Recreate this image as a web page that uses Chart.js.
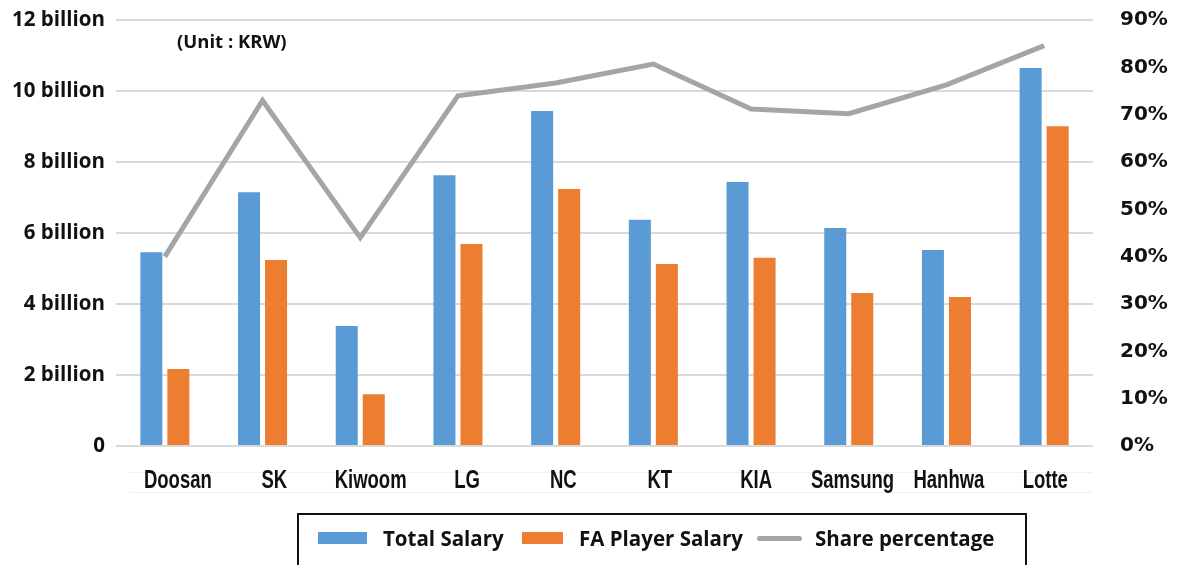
<!DOCTYPE html>
<html>
<head>
<meta charset="utf-8">
<script src="https://cdn.jsdelivr.net/npm/chart.js@4.4.1/dist/chart.umd.min.js"></script>
<style>
  html, body { margin: 0; padding: 0; background: #fff; }
  #wrap { position: relative; width: 1179px; height: 565px; overflow: hidden; }
  canvas { display: block; }
  #unit { position: absolute; left: 177px; top: 28px; font: bold 18.5px "Open Sans", "Noto Sans", sans-serif; color: #111; white-space: nowrap; }
  #legend { position: absolute; left: 297px; top: 513px; width: 730px; height: 56px; border: 2px solid #111; box-sizing: border-box; }
  .lg { position: absolute; font: bold 20.5px "Open Sans", "Noto Sans", sans-serif; color: #111; white-space: nowrap; line-height: 24px; top: 11px; }
  .sw { position: absolute; height: 12px; top: 17px; }
  .ln { position: absolute; height: 5px; top: 21px; border-radius: 3px; }
</style>
</head>
<body>
<div id="wrap">
  <canvas id="c" width="1179" height="565"></canvas>
  <div id="unit">(Unit : KRW)</div>
  <div id="legend"></div>
</div>
<script>
const categories = ["Doosan", "SK", "Kiwoom", "LG", "NC", "KT", "KIA", "Samsung", "Hanhwa", "Lotte"];
const totalSalary = [5.46, 7.15, 3.38, 7.63, 9.44, 6.37, 7.44, 6.14, 5.52, 10.65]; // billion KRW
const faSalary = [2.17, 5.24, 1.46, 5.69, 7.24, 5.13, 5.30, 4.31, 4.20, 9.01];   // billion KRW
const sharePct = [40, 73, 44, 74, 76.7, 80.7, 71.2, 70.2, 76.3, 84.6];          // %
const leftTicks = ["0", "2 billion", "4 billion", "6 billion", "8 billion", "10 billion", "12 billion"];
const rightTicks = ["0%", "10%", "20%", "30%", "40%", "50%", "60%", "70%", "80%", "90%"];

const BLUE = "#5B9BD5", ORANGE = "#ED7D31", GRAY = "#A5A5A5";

// Category labels: drawn at the x scale's own tick positions, with a condensed look
// (the reference labels sit slightly right of the bar-group centres at the left end)
const condensedLabels = {
  id: "condensedLabels",
  afterDraw(chart) {
    const xs = chart.scales.x, ctx = chart.ctx;
    const x0 = xs.getPixelForValue(0);
    ctx.save();
    // faint separator lines seen under the labels in the reference
    ctx.strokeStyle = "#F0F0F0"; ctx.lineWidth = 1;
    [xs.top + 26, xs.top + 46].forEach(yy => {
      ctx.beginPath(); ctx.moveTo(xs.left + 14, yy + 0.5); ctx.lineTo(xs.right, yy + 0.5); ctx.stroke();
    });
    ctx.fillStyle = "#111";
    ctx.font = "bold 25px 'Liberation Sans', Arial, sans-serif";
    ctx.textAlign = "center";
    ctx.textBaseline = "alphabetic";
    chart.data.labels.forEach((lab, i) => {
      const px = xs.getPixelForValue(i);
      const x = px + 13 - (px - x0) * 0.0135;
      ctx.save();
      ctx.translate(x, xs.top + 42);
      ctx.scale(0.74, 1);
      ctx.fillText(lab, 0, 0);
      ctx.restore();
    });
    ctx.restore();
  }
};

const chart = new Chart(document.getElementById("c"), {
  data: {
    labels: categories,
    datasets: [
      { type: "line", label: "Share percentage", data: sharePct, yAxisID: "y1", borderColor: GRAY, backgroundColor: GRAY,
        borderWidth: 5, pointRadius: 0, tension: 0, order: 0 },
      { type: "bar", label: "Total Salary", data: totalSalary, yAxisID: "y", backgroundColor: BLUE,
        categoryPercentage: 0.553, barPercentage: 0.815, order: 1 },
      { type: "bar", label: "FA Player Salary", data: faSalary, yAxisID: "y", backgroundColor: ORANGE,
        categoryPercentage: 0.553, barPercentage: 0.815, order: 1 }
    ]
  },
  plugins: [condensedLabels],
  options: {
    responsive: false,
    animation: false,
    layout: { padding: { top: 20, left: 0, right: 0, bottom: 0 } },
    plugins: { legend: { display: false }, tooltip: { enabled: false } },
    scales: {
      x: {
        grid: { display: false },
        border: { display: false },
        ticks: { display: false, autoSkip: false },
        afterFit(s) { s.height = 119; }
      },
      y: {
        position: "left", min: 0, max: 12,
        ticks: { stepSize: 2, color: "#111", padding: 11,
                 font: { family: "'Open Sans', 'Noto Sans', sans-serif", size: 20.5, weight: "bold" },
                 callback: (v) => leftTicks[Math.round(v / 2)] },
        grid: { color: "#D9D9D9", lineWidth: 2, drawTicks: false },
        border: { display: false },
        afterFit(s) { s.width = 116; s.paddingTop = 0; s.paddingBottom = 0; }
      },
      y1: {
        position: "right", min: 0, max: 90,
        ticks: { stepSize: 10, color: "#111", padding: 27,
                 font: { family: "'DejaVu Sans', sans-serif", size: 20, weight: "bold" },
                 callback: (v) => rightTicks[Math.round(v / 10)] },
        grid: { display: false, drawTicks: false },
        border: { display: false },
        afterFit(s) { s.width = 86; s.paddingTop = 0; s.paddingBottom = 0; }
      }
    }
  }
});

// HTML legend built from the datasets (positions relative to the legend box)
const lg = document.getElementById("legend");
const legendLayout = [
  { ds: chart.data.datasets[1], sx: 19, sw: 49, tx: 84 },
  { ds: chart.data.datasets[2], sx: 223, sw: 41, tx: 280 },
  { ds: chart.data.datasets[0], sx: 458, sw: 45, tx: 516 }
];
legendLayout.forEach(({ ds, sx, sw, tx }) => {
  const m = document.createElement("div");
  m.className = ds.type === "line" ? "ln" : "sw";
  m.style.left = sx + "px"; m.style.width = sw + "px";
  m.style.background = ds.type === "line" ? ds.borderColor : ds.backgroundColor;
  const t = document.createElement("div"); t.className = "lg";
  t.style.left = tx + "px"; t.textContent = ds.label;
  lg.appendChild(m); lg.appendChild(t);
});
</script>
</body>
</html>
